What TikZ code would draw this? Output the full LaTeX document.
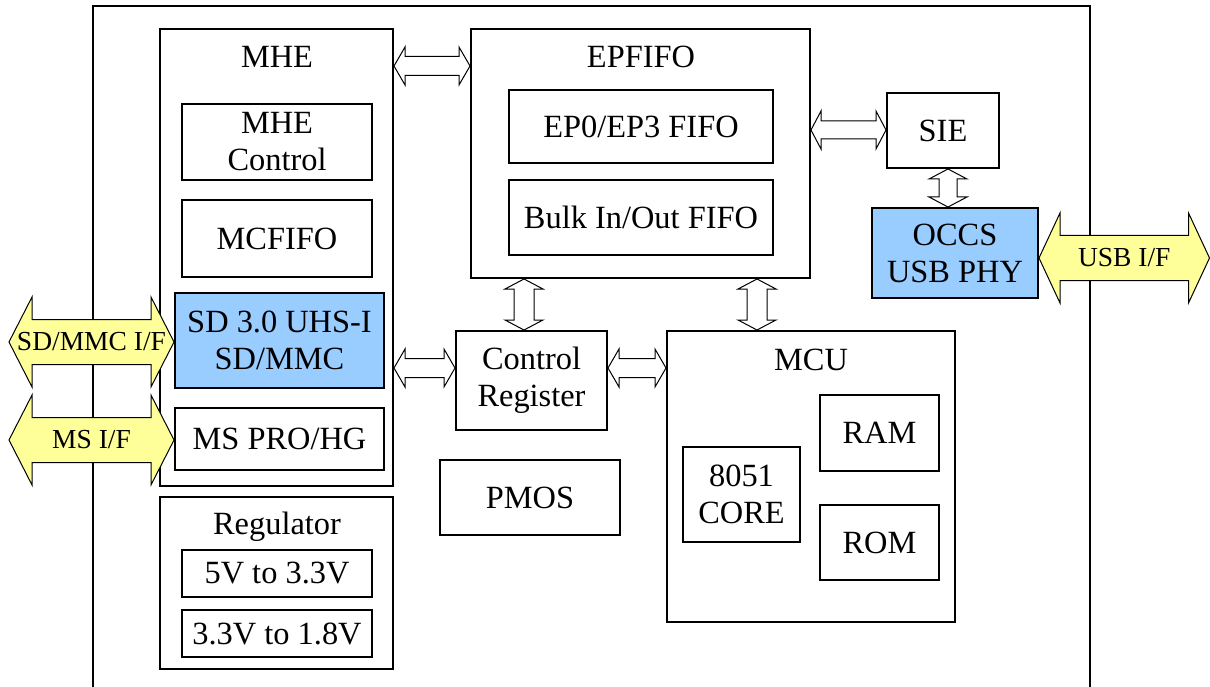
\documentclass[tikz,border=0pt]{standalone}
\usepackage{fontspec}
\setmainfont{Liberation Serif}
\usetikzlibrary{calc}
\definecolor{boxblue}{RGB}{153,204,255}
\definecolor{ifyellow}{RGB}{255,255,153}
% horizontal double arrow: [style]{left tip}{right tip}{head length}{head half width}{shaft half width}
\newcommand\harr[6][hollowarr]{%
  \draw[#1] (#2) -- ($(#2)+(#4,-#5)$) -- ($(#2)+(#4,-#6)$) -- ($(#3)+(-#4,-#6)$)
    -- ($(#3)+(-#4,-#5)$) -- (#3) -- ($(#3)+(-#4,#5)$) -- ($(#3)+(-#4,#6)$)
    -- ($(#2)+(#4,#6)$) -- ($(#2)+(#4,#5)$) -- cycle;}
% vertical double arrow: [style]{top tip}{bottom tip}{head length}{head half width}{shaft half width}
\newcommand\varr[6][hollowarr]{%
  \draw[#1] (#2) -- ($(#2)+(#5,#4)$) -- ($(#2)+(#6,#4)$) -- ($(#3)+(#6,-#4)$)
    -- ($(#3)+(#5,-#4)$) -- (#3) -- ($(#3)+(-#5,-#4)$) -- ($(#3)+(-#6,-#4)$)
    -- ($(#2)+(-#6,#4)$) -- ($(#2)+(-#5,#4)$) -- cycle;}
% box node: {name}{x1}{y1}{x2}{y2}{extra style}{text}
\newcommand\bxnode[7]{%
  \node[blk,#6,minimum width={#4-#2},minimum height={#5-#3}] (#1) at ({(#2+#4)/2},{(#3+#5)/2}) {#7};}
\begin{document}
\begin{tikzpicture}[x=1pt,y=-1pt,
  blk/.style={draw,line width=2pt,inner sep=0pt,align=center,font=\fontsize{32.4}{37}\selectfont},
  title/.style={inner sep=0pt,font=\fontsize{32.4}{37}\selectfont},
  hollowarr/.style={draw=black,fill=white,line width=1pt,line join=miter},
  yellowarr/.style={draw=black,fill=ifyellow,line width=1pt,line join=miter},
  iflabel/.style={inner sep=0pt,font=\fontsize{27.5}{30}\selectfont}]
\useasboundingbox (0,0) rectangle (1210,687);
% outer frame
\draw[line width=2pt] (93,700) -- (93,6) -- (1090,6) -- (1090,700);
% MHE block
\bxnode{mhe}{160}{29}{393}{486}{}{}
\node[title] (mhet) at (277,57) {MHE};
\bxnode{mhectl}{182}{104}{372}{180}{}{MHE\\Control}
\bxnode{mcfifo}{182}{200}{372}{277}{}{MCFIFO}
\bxnode{sd}{175}{293}{384}{388}{fill=boxblue}{SD 3.0 UHS-I\\SD/MMC}
\bxnode{ms}{175}{408}{384}{470}{}{MS PRO/HG}
% Regulator
\bxnode{reg}{160}{497}{393}{669}{}{}
\node[title] (regt) at (277,527) {Regulator};
\bxnode{v33}{182}{550}{372}{597}{}{5V to 3.3V}
\bxnode{v18}{182}{610}{372}{657}{}{3.3V to 1.8V}
% EPFIFO
\bxnode{epfifo}{471}{29}{810}{278}{}{}
\node[title] (epfifot) at (641,57) {EPFIFO};
\bxnode{ep0}{509}{90}{773}{163}{}{EP0/EP3 FIFO}
\bxnode{bulk}{509}{180}{773}{255}{}{Bulk In/Out FIFO}
% SIE / PHY
\bxnode{sie}{887}{93}{999}{168}{}{SIE}
\bxnode{occs}{872}{208}{1038}{298}{fill=boxblue}{OCCS\\USB PHY}
% Control register, PMOS
\bxnode{ctrl}{456}{331}{607}{430}{}{Control\\Register}
\bxnode{pmos}{440}{460}{620}{535}{}{PMOS}
% MCU
\bxnode{mcu}{667}{331}{955}{622}{}{}
\node[title] (mcut) at (811,360) {MCU};
\bxnode{ram}{820}{395}{939}{471}{}{RAM}
\bxnode{rom}{820}{505}{939}{580}{}{ROM}
\bxnode{core}{683}{447}{800}{542}{}{8051\\CORE}
% connector end points
\coordinate (a1l) at (mhe.east |- 0,66);
\coordinate (a1r) at (epfifo.west |- 0,66);
\coordinate (a2l) at (epfifo.east |- 0,130);
\coordinate (a2r) at (sie.west |- 0,130);
\coordinate (a3t) at (sie.south -| 948,0);
\coordinate (a3b) at (occs.north -| 948,0);
\coordinate (a4t) at (epfifo.south -| 524,0);
\coordinate (a4b) at (ctrl.north -| 524,0);
\coordinate (a5t) at (epfifo.south -| 757,0);
\coordinate (a5b) at (mcu.north -| 757,0);
\coordinate (a6l) at (mhe.east |- 0,368);
\coordinate (a6r) at (ctrl.west |- 0,368);
\coordinate (a7l) at (ctrl.east |- 0,368);
\coordinate (a7r) at (mcu.west |- 0,368);
\harr{a1l}{a1r}{11}{19}{9.5}
\harr{a2l}{a2r}{10}{19}{9}
\varr{a3t}{a3b}{10}{19}{9}
\varr{a4t}{a4b}{10}{19}{10}
\varr{a5t}{a5b}{10}{19}{10}
\harr{a6l}{a6r}{11}{19}{9.5}
\harr{a7l}{a7r}{11}{19}{9.5}
% external interfaces
\coordinate (sdl) at (9,342);
\coordinate (sdr) at (sd.west |- 0,342);
\coordinate (msl) at (9,440);
\coordinate (msr) at (ms.west |- 0,440);
\coordinate (usbl) at (occs.east |- 0,258);
\coordinate (usbr) at (1209.5,258);
\harr[yellowarr]{sdl}{sdr}{23}{45}{22.5}
\harr[yellowarr]{msl}{msr}{23}{45}{22.5}
\harr[yellowarr]{usbl}{usbr}{21}{45}{22.5}
\node[iflabel] (sdif) at ($(sdl)!0.5!(sdr)$) {SD/MMC I/F};
\node[iflabel] (msif) at ($(msl)!0.5!(msr)$) {MS I/F};
\node[iflabel] (usbif) at ($(usbl)!0.5!(usbr)$) {USB I/F};
\end{tikzpicture}
\end{document}
